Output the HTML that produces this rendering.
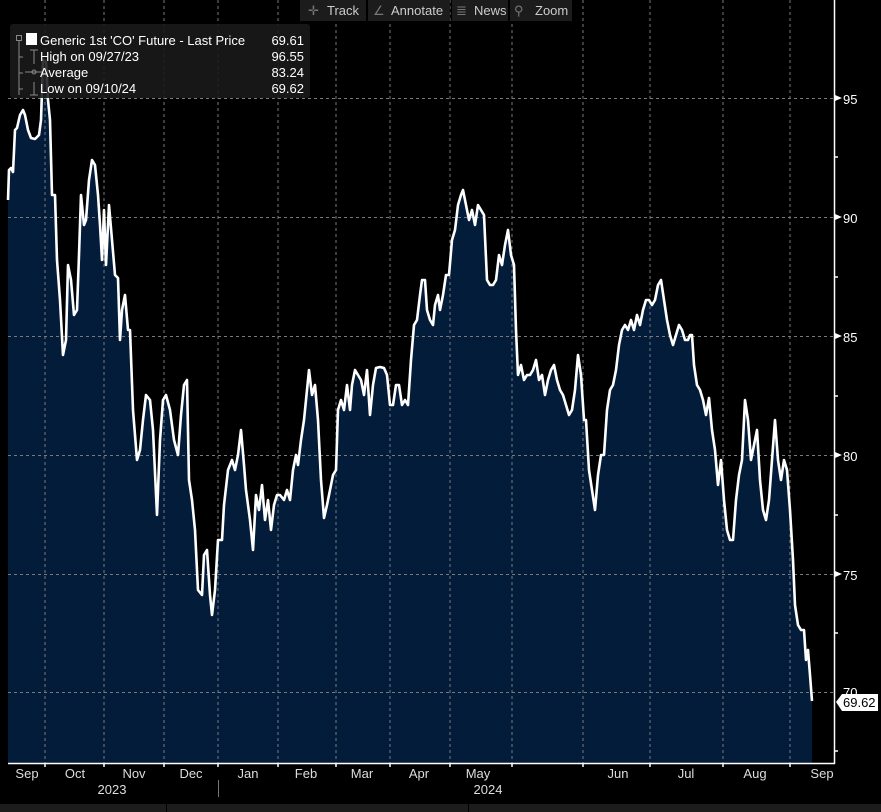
<!DOCTYPE html>
<html><head><meta charset="utf-8"><style>
html,body{margin:0;padding:0;background:#000;width:881px;height:812px;overflow:hidden;font-family:"Liberation Sans","DejaVu Sans",sans-serif;}
</style></head><body>
<svg width="881" height="812" xmlns="http://www.w3.org/2000/svg" style="position:absolute;left:0;top:0">
<rect width="881" height="812" fill="#000"/>
<path id="fill" fill="#031c3a" d="M8,763 L8,200 L9,170 L11,168 L13,172 L15,130 L17,128 L20,115 L23,110 L25,115 L28,130 L31,138 L35,139 L39,135 L41,120 L43,60 L46,62 L48,100 L50,120 L52,195 L55,195 L57,260 L60,300 L63,355 L66,340 L68,265 L71,280 L74,315 L77,310 L79,255 L81,195 L84,225 L86,220 L89,180 L92,160 L95,165 L98,195 L100,225 L102,260 L104,210 L106,265 L109,205 L112,240 L115,275 L118,278 L120,340 L122,310 L125,295 L128,330 L130,330 L133,410 L137,460 L140,450 L143,420 L146,395 L150,400 L153,430 L157,515 L160,440 L163,400 L166,395 L170,410 L174,440 L178,455 L181,415 L184,385 L187,380 L189,480 L192,500 L195,530 L198,590 L202,595 L204,555 L207,550 L210,595 L212,615 L215,590 L218,540 L222,540 L224,505 L228,470 L232,460 L235,470 L238,455 L241,430 L244,465 L246,490 L250,520 L253,550 L256,495 L259,510 L262,485 L265,520 L268,500 L271,530 L274,505 L277,495 L280,495 L284,500 L287,490 L290,500 L293,470 L296,455 L298,465 L301,440 L304,420 L306,400 L309,370 L312,395 L315,385 L318,420 L321,480 L324,518 L327,505 L330,490 L333,475 L336,470 L338,410 L341,400 L344,410 L347,385 L350,410 L352,385 L355,370 L358,375 L361,380 L364,395 L367,370 L370,415 L373,385 L376,368 L380,367 L384,368 L387,375 L390,405 L393,405 L396,385 L399,385 L402,405 L405,400 L408,405 L411,360 L414,325 L417,320 L420,295 L422,280 L425,280 L427,310 L430,320 L433,325 L435,305 L438,295 L440,310 L443,295 L446,275 L449,275 L452,240 L455,230 L458,205 L461,195 L463,190 L466,205 L469,220 L472,210 L475,225 L478,205 L481,210 L484,215 L487,280 L490,285 L493,285 L496,280 L499,255 L502,265 L505,245 L508,230 L511,255 L514,265 L516,330 L518,375 L521,365 L524,380 L527,375 L530,375 L533,370 L536,360 L539,380 L542,375 L545,395 L548,380 L551,370 L554,365 L557,380 L560,390 L563,395 L566,405 L569,415 L572,410 L575,390 L578,355 L581,375 L584,420 L586,420 L589,470 L592,490 L595,510 L598,475 L601,455 L604,455 L607,410 L610,390 L613,385 L616,370 L619,345 L622,330 L625,325 L628,330 L631,320 L634,330 L637,315 L640,325 L643,310 L646,300 L649,300 L652,305 L655,300 L658,285 L661,280 L664,300 L667,320 L670,335 L673,345 L676,335 L679,325 L682,330 L685,340 L688,340 L690,335 L692,335 L694,365 L697,385 L700,390 L703,400 L706,415 L709,398 L712,430 L715,450 L718,485 L721,460 L724,500 L727,530 L730,540 L733,540 L736,500 L739,475 L742,460 L745,400 L748,420 L751,460 L754,445 L757,430 L760,480 L763,510 L766,520 L769,500 L772,460 L775,420 L778,460 L781,480 L784,460 L787,470 L790,510 L793,560 L795,605 L798,625 L801,630 L804,630 L806,660 L808,650 L810,675 L812,701 L812,763 Z"/>
<g stroke="#7a7a7a" stroke-width="1" stroke-dasharray="3,3">
<line x1="8" y1="98.5" x2="834" y2="98.5"/><line x1="8" y1="217.5" x2="834" y2="217.5"/><line x1="8" y1="336.5" x2="834" y2="336.5"/><line x1="8" y1="455.5" x2="834" y2="455.5"/><line x1="8" y1="574.5" x2="834" y2="574.5"/><line x1="8" y1="692.5" x2="834" y2="692.5"/>
<line x1="45" y1="0" x2="45" y2="763"/><line x1="104" y1="0" x2="104" y2="763"/><line x1="164" y1="0" x2="164" y2="763"/><line x1="218" y1="0" x2="218" y2="763"/><line x1="278" y1="0" x2="278" y2="763"/><line x1="336" y1="0" x2="336" y2="763"/><line x1="390" y1="0" x2="390" y2="763"/><line x1="450" y1="0" x2="450" y2="763"/><line x1="512" y1="0" x2="512" y2="763"/><line x1="583" y1="0" x2="583" y2="763"/><line x1="650" y1="0" x2="650" y2="763"/><line x1="723" y1="0" x2="723" y2="763"/><line x1="790" y1="0" x2="790" y2="763"/>
</g>
<use href="#line"/>
<path fill="none" stroke="#fff" stroke-width="2.6" stroke-linejoin="round" d="M8,200 L9,170 L11,168 L13,172 L15,130 L17,128 L20,115 L23,110 L25,115 L28,130 L31,138 L35,139 L39,135 L41,120 L43,60 L46,62 L48,100 L50,120 L52,195 L55,195 L57,260 L60,300 L63,355 L66,340 L68,265 L71,280 L74,315 L77,310 L79,255 L81,195 L84,225 L86,220 L89,180 L92,160 L95,165 L98,195 L100,225 L102,260 L104,210 L106,265 L109,205 L112,240 L115,275 L118,278 L120,340 L122,310 L125,295 L128,330 L130,330 L133,410 L137,460 L140,450 L143,420 L146,395 L150,400 L153,430 L157,515 L160,440 L163,400 L166,395 L170,410 L174,440 L178,455 L181,415 L184,385 L187,380 L189,480 L192,500 L195,530 L198,590 L202,595 L204,555 L207,550 L210,595 L212,615 L215,590 L218,540 L222,540 L224,505 L228,470 L232,460 L235,470 L238,455 L241,430 L244,465 L246,490 L250,520 L253,550 L256,495 L259,510 L262,485 L265,520 L268,500 L271,530 L274,505 L277,495 L280,495 L284,500 L287,490 L290,500 L293,470 L296,455 L298,465 L301,440 L304,420 L306,400 L309,370 L312,395 L315,385 L318,420 L321,480 L324,518 L327,505 L330,490 L333,475 L336,470 L338,410 L341,400 L344,410 L347,385 L350,410 L352,385 L355,370 L358,375 L361,380 L364,395 L367,370 L370,415 L373,385 L376,368 L380,367 L384,368 L387,375 L390,405 L393,405 L396,385 L399,385 L402,405 L405,400 L408,405 L411,360 L414,325 L417,320 L420,295 L422,280 L425,280 L427,310 L430,320 L433,325 L435,305 L438,295 L440,310 L443,295 L446,275 L449,275 L452,240 L455,230 L458,205 L461,195 L463,190 L466,205 L469,220 L472,210 L475,225 L478,205 L481,210 L484,215 L487,280 L490,285 L493,285 L496,280 L499,255 L502,265 L505,245 L508,230 L511,255 L514,265 L516,330 L518,375 L521,365 L524,380 L527,375 L530,375 L533,370 L536,360 L539,380 L542,375 L545,395 L548,380 L551,370 L554,365 L557,380 L560,390 L563,395 L566,405 L569,415 L572,410 L575,390 L578,355 L581,375 L584,420 L586,420 L589,470 L592,490 L595,510 L598,475 L601,455 L604,455 L607,410 L610,390 L613,385 L616,370 L619,345 L622,330 L625,325 L628,330 L631,320 L634,330 L637,315 L640,325 L643,310 L646,300 L649,300 L652,305 L655,300 L658,285 L661,280 L664,300 L667,320 L670,335 L673,345 L676,335 L679,325 L682,330 L685,340 L688,340 L690,335 L692,335 L694,365 L697,385 L700,390 L703,400 L706,415 L709,398 L712,430 L715,450 L718,485 L721,460 L724,500 L727,530 L730,540 L733,540 L736,500 L739,475 L742,460 L745,400 L748,420 L751,460 L754,445 L757,430 L760,480 L763,510 L766,520 L769,500 L772,460 L775,420 L778,460 L781,480 L784,460 L787,470 L790,510 L793,560 L795,605 L798,625 L801,630 L804,630 L806,660 L808,650 L810,675 L812,701"/>
<line x1="834.5" y1="0" x2="834.5" y2="764" stroke="#fff" stroke-width="1.5"/>
<line x1="8" y1="763.5" x2="835" y2="763.5" stroke="#fff" stroke-width="1.5"/>
<g stroke="#fff" stroke-width="1.5">
<line x1="834" y1="157" x2="838" y2="157"/><line x1="834" y1="277" x2="838" y2="277"/><line x1="834" y1="396" x2="838" y2="396"/><line x1="834" y1="515" x2="838" y2="515"/><line x1="834" y1="633" x2="838" y2="633"/><line x1="834" y1="751" x2="838" y2="751"/>
<line x1="45" y1="763" x2="45" y2="767"/><line x1="104" y1="763" x2="104" y2="767"/><line x1="164" y1="763" x2="164" y2="767"/><line x1="218" y1="763" x2="218" y2="767"/><line x1="278" y1="763" x2="278" y2="767"/><line x1="336" y1="763" x2="336" y2="767"/><line x1="390" y1="763" x2="390" y2="767"/><line x1="450" y1="763" x2="450" y2="767"/><line x1="512" y1="763" x2="512" y2="767"/><line x1="583" y1="763" x2="583" y2="767"/><line x1="650" y1="763" x2="650" y2="767"/><line x1="723" y1="763" x2="723" y2="767"/><line x1="790" y1="763" x2="790" y2="767"/>
</g>
<g fill="#fff"><path d="M835,95 L842,98 L835,101Z"/><path d="M835,214 L842,217 L835,220Z"/><path d="M835,333 L842,336 L835,339Z"/><path d="M835,452 L842,455 L835,458Z"/><path d="M835,571 L842,574 L835,577Z"/></g>
<g fill="#fff" font-size="13" font-family="Liberation Sans, sans-serif">
<text x="843" y="104">95</text><text x="843" y="223">90</text><text x="843" y="342">85</text><text x="843" y="461">80</text><text x="843" y="580">75</text><text x="843" y="697">70</text>
</g>
<path d="M836,702 L842,694 L878,694 L878,711 L842,711 Z" fill="#fff"/>
<text x="843" y="707" font-size="13" fill="#000" font-family="Liberation Sans, sans-serif">69.62</text>
<g fill="#ddd" font-size="13" font-family="Liberation Sans, sans-serif" text-anchor="middle">
<text x="27" y="778">Sep</text><text x="75" y="778">Oct</text><text x="134" y="778">Nov</text><text x="191" y="778">Dec</text><text x="248" y="778">Jan</text><text x="306" y="778">Feb</text><text x="362" y="778">Mar</text><text x="419" y="778">Apr</text><text x="478" y="778">May</text><text x="618" y="778">Jun</text><text x="686" y="778">Jul</text><text x="755" y="778">Aug</text><text x="822" y="778">Sep</text>
<text x="112" y="794">2023</text><text x="488" y="794">2024</text>
</g>
<line x1="218.5" y1="780" x2="218.5" y2="797" stroke="#777"/>
<rect x="0" y="804" width="881" height="8" fill="#1c1c1c"/>
<rect x="166" y="804" width="1" height="8" fill="#000"/><rect x="468" y="804" width="1" height="8" fill="#000"/>
<g fill="#1c1c1c"><rect x="300" y="0" width="66" height="21"/><rect x="368" y="0" width="82" height="21"/><rect x="452" y="0" width="56" height="21"/><rect x="510" y="0" width="62" height="21"/></g>
<g fill="#ccc" font-size="13" font-family="Liberation Sans, sans-serif">
<text x="308" y="15" fill="#777">✛</text><text x="327" y="15">Track</text>
<text x="373" y="15" fill="#777">∠</text><text x="391" y="15">Annotate</text>
<text x="456" y="15" fill="#777">≣</text><text x="474" y="15">News</text>
<text x="514" y="15" fill="#777">⚲</text><text x="535" y="15">Zoom</text>
</g>
<rect x="10" y="24" width="300" height="74" rx="3" fill="#1a1a1a" fill-opacity="0.88"/>
<g stroke="#888" fill="none" stroke-width="1">
<rect x="16.5" y="35.5" width="5" height="5"/><line x1="19" y1="41" x2="19" y2="95"/><line x1="19" y1="57" x2="23" y2="57"/><line x1="19" y1="73" x2="23" y2="73"/><line x1="19" y1="89" x2="23" y2="89"/>
<line x1="34" y1="50" x2="34" y2="64"/><line x1="30" y1="50" x2="38" y2="50"/>
<line x1="25" y1="72" x2="42" y2="72"/><circle cx="34" cy="72" r="2"/>
<line x1="34" y1="82" x2="34" y2="95"/><line x1="30" y1="95" x2="38" y2="95"/>
</g>
<rect x="26" y="33" width="11" height="12" fill="#fff"/>
<g fill="#fff" font-size="13" font-family="Liberation Sans, sans-serif">
<text x="40" y="45">Generic 1st 'CO' Future - Last Price</text>
<text x="40" y="61">High on 09/27/23</text>
<text x="40" y="77">Average</text>
<text x="40" y="93">Low on 09/10/24</text>
<g text-anchor="end"><text x="304" y="45">69.61</text><text x="304" y="61">96.55</text><text x="304" y="77">83.24</text><text x="304" y="93">69.62</text></g>
</g>
</svg>
</body></html>
